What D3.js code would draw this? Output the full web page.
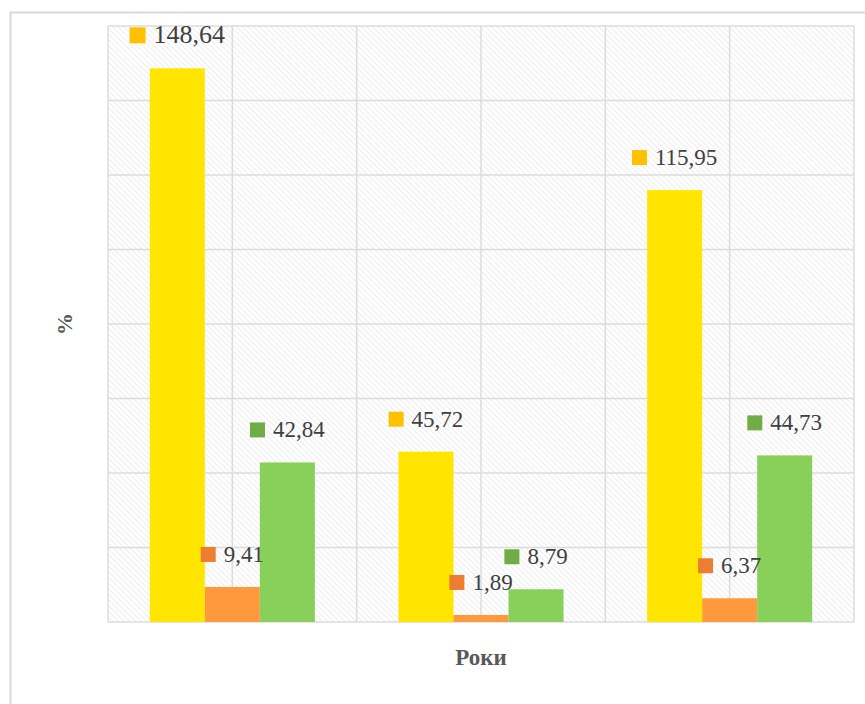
<!DOCTYPE html>
<html>
<head>
<meta charset="utf-8">
<script src="https://cdn.jsdelivr.net/npm/d3@7/dist/d3.min.js"></script>
<style>
  html, body { margin: 0; padding: 0; background: #fff; }
  svg { display: block; }
</style>
</head>
<body>
<svg id="chart" width="865" height="704"></svg>
<script>
// Chart data
const categories = ["1", "2", "3"];
const seriesNames = ["s1", "s2", "s3"];
const seriesValues = [
  [148.64, 45.72, 115.95],   // yellow
  [9.41, 1.89, 6.37],        // orange
  [42.84, 8.79, 44.73]       // green
];
const yTicks = [0, 20, 40, 60, 80, 100, 120, 140, 160];
const yTitle = "%";
const xTitle = "Роки";

// Styles
const barColors = ["#FFE500", "#FF9A3C", "#88D05A"];
const keyColors = ["#FFC000", "#ED7D31", "#70AD47"];
const gridColor = "#dcdcdc";
const labelFont = "'Liberation Serif', 'Times New Roman', serif";

const svg = d3.select("#chart");
const plot = { left: 108, right: 854, top: 26, bottom: 622 };

// Outer frame of the chart area
svg.append("rect")
  .attr("x", 10.5).attr("y", 12.5)
  .attr("width", 900).attr("height", 760)
  .attr("fill", "#fff")
  .attr("stroke", "#d9d9d9").attr("stroke-width", 2);

// Diagonal hatch fill for the plot background
const defs = svg.append("defs");
const pat = defs.append("pattern")
  .attr("id", "hatch")
  .attr("patternUnits", "userSpaceOnUse")
  .attr("width", 4).attr("height", 4)
  .attr("patternTransform", "rotate(-45)");
pat.append("rect").attr("width", 4).attr("height", 4).attr("fill", "#fff");
pat.append("line")
  .attr("x1", 0).attr("y1", 0).attr("x2", 0).attr("y2", 4)
  .attr("stroke", "#e9e9e9").attr("stroke-width", 1.6);

svg.append("rect")
  .attr("x", plot.left).attr("y", plot.top)
  .attr("width", plot.right - plot.left)
  .attr("height", plot.bottom - plot.top)
  .attr("fill", "url(#hatch)");

// Scales
const x0 = d3.scaleBand().domain(categories).range([plot.left, plot.right]).padding(0);
const x1 = d3.scaleBand().domain(seriesNames).range([0, x0.bandwidth()])
  .paddingInner(0).paddingOuter(0.76);
const y = d3.scaleLinear().domain([0, 160]).range([plot.bottom, plot.top]);

// Horizontal gridlines
const grid = svg.append("g").attr("stroke", gridColor).attr("stroke-width", 1.5);
grid.selectAll("line.h").data(yTicks).join("line")
  .attr("class", "h")
  .attr("x1", plot.left).attr("x2", plot.right)
  .attr("y1", d => y(d)).attr("y2", d => y(d));

// Vertical gridlines at category edges and centres
const vPos = [];
categories.forEach(c => { vPos.push(x0(c)); vPos.push(x0(c) + x0.bandwidth() / 2); });
vPos.push(x0.range()[1]);
grid.selectAll("line.v").data(vPos).join("line")
  .attr("class", "v")
  .attr("y1", plot.top).attr("y2", plot.bottom)
  .attr("x1", d => d).attr("x2", d => d);

// Bars
const barData = [];
seriesValues.forEach((vals, si) => {
  vals.forEach((v, ci) => barData.push({ si, ci, v }));
});

svg.append("g").selectAll("rect").data(barData).join("rect")
  .attr("x", d => x0(categories[d.ci]) + x1(seriesNames[d.si]))
  .attr("width", x1.bandwidth())
  .attr("y", d => y(d.v))
  .attr("height", d => y(0) - y(d.v))
  .attr("fill", d => barColors[d.si]);

// Value labels with series key squares
const fmt = v => d3.format(".2f")(v).replace(".", ",");
const labels = svg.append("g");
barData.forEach(d => {
  const big = d.si === 0 && d.ci === 0;
  const size = big ? 26 : 23;
  const sq = big ? 16 : 15;
  const gap = 8;
  const cx = x0(categories[d.ci]) + x1(seriesNames[d.si]) + x1.bandwidth() / 2;
  const base = y(d.v) - 25;
  const g = labels.append("g");
  const t = g.append("text")
    .attr("y", base)
    .attr("font-family", labelFont)
    .attr("font-size", size)
    .attr("fill", "#404040")
    .text(fmt(d.v));
  const w = t.node().getComputedTextLength();
  const total = sq + gap + w;
  const left = cx - total / 2;
  t.attr("x", left + sq + gap);
  g.append("rect")
    .attr("x", left).attr("y", base - sq)
    .attr("width", sq).attr("height", sq)
    .attr("fill", keyColors[d.si]);
});

// Axis titles
svg.append("text")
  .attr("transform", `translate(72, ${(plot.top + plot.bottom) / 2}) rotate(-90)`)
  .attr("text-anchor", "middle")
  .attr("font-family", labelFont)
  .attr("font-weight", "bold")
  .attr("font-size", 22)
  .attr("fill", "#595959")
  .text(yTitle);

svg.append("text")
  .attr("x", (plot.left + plot.right) / 2)
  .attr("y", 665)
  .attr("text-anchor", "middle")
  .attr("font-family", labelFont)
  .attr("font-weight", "bold")
  .attr("font-size", 23)
  .attr("fill", "#595959")
  .text(xTitle);
</script>
</body>
</html>
